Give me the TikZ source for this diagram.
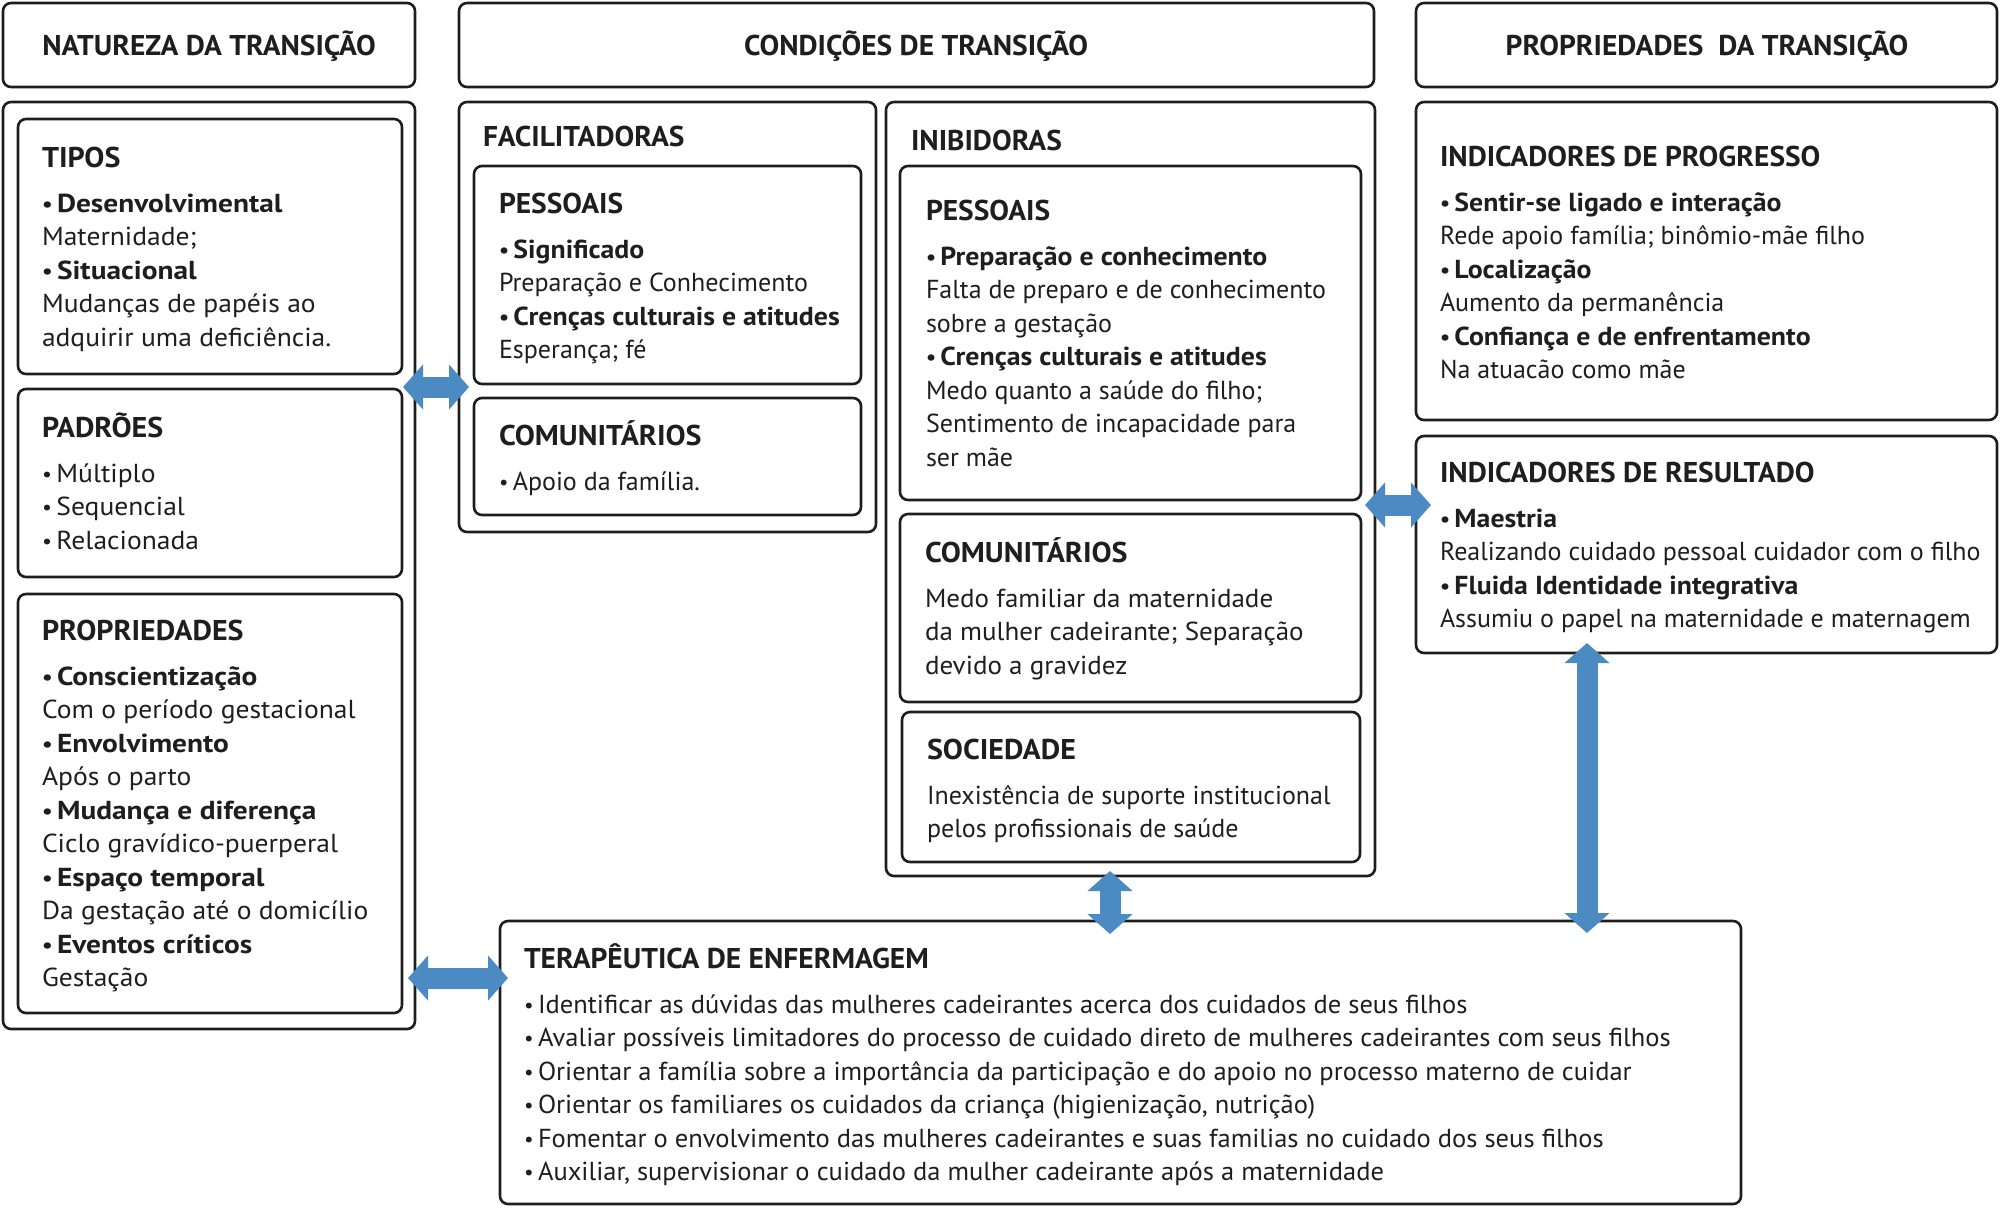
\documentclass[tikz,border=0pt]{standalone}
\usepackage{fontspec}
\setmainfont{PT Sans}[BoldFeatures={FakeStretch=1.07}]
\newfontfamily\wfam{PT Sans}[UprightFeatures={FakeStretch=1.06},BoldFeatures={FakeStretch=1.13}]
\newfontfamily\mfam{PT Sans}[UprightFeatures={FakeStretch=1.04},BoldFeatures={FakeStretch=1.07}]
\newfontfamily\tfam{PT Sans}[UprightFeatures={FakeStretch=1.02},BoldFeatures={FakeStretch=1.07}]
\newfontfamily\hfam{PT Sans}[BoldFeatures={FakeStretch=1.03}]
\newfontfamily\whfam{PT Sans}[BoldFeatures={FakeStretch=1.05}]
\usetikzlibrary{arrows.meta,fit}
\definecolor{bx}{HTML}{1E1E1E}
\definecolor{arr}{RGB}{75,138,194}
\newcommand\bodyf{\fontsize{13}{16.75}\selectfont}
\newcommand\hdf{\fontsize{14.3}{16.75}\selectfont\bfseries}
\newcommand\hdl[1]{{\hfam\hdf #1}\\[5.75pt]}
\newcommand\hdlw[1]{{\whfam\hdf #1}\\[5.75pt]}
\newcommand\bu{\raisebox{.4pt}{\scalebox{.8}{•}}\hspace{2.2pt}}
\newcommand\bl[1]{{\bfseries\bu #1}}
\newcommand\tb[3]{\parbox[t]{#1}{#2\bodyf\raggedright #3}}
\begin{document}
\begin{tikzpicture}[x=0.5pt,y=-0.5pt,
  frame/.style={draw=bx, line width=1.3pt, rounded corners=4pt, inner sep=0pt},
  txt/.style={anchor=base west, inner sep=0pt, outer sep=0pt, text=bx},
  htxt/.style={anchor=base, inner sep=0pt, text=bx, font=\hfam\hdf},
  dbl/.style={line width=10.5pt, draw=arr, {Triangle[length=10pt,width=22pt]}-{Triangle[length=10pt,width=22pt]}}]
\useasboundingbox (0,0) rectangle (2000,1207);
% header boxes
\node[frame, fit={(3,3)(415,87)}] (hN) {};
\node[frame, fit={(459,3)(1374,87)}] (hC) {};
\node[frame, fit={(1416,3)(1997,87)}] (hP) {};
\node[htxt] (hNt) at (209,55) {NATUREZA DA TRANSIÇÃO};
\node[htxt] (hCt) at (916,55) {CONDIÇÕES DE TRANSIÇÃO};
\node[htxt] (hPt) at (1707,55) {PROPRIEDADES\ \ DA TRANSIÇÃO};
% left column
\node[frame, fit={(3,102)(415,1029)}] (outL) {};
\node[frame, fit={(18,119)(402,374)}] (tipos) {};
\node[frame, fit={(18,389)(402,577)}] (padr) {};
\node[frame, fit={(18,594)(402,1013)}] (props) {};
\node[txt] (tiposT) at (42,167) {\tb{180pt}{\wfam}{\hdlw{TIPOS}\bl{Desenvolvimental}\\Maternidade;\\\bl{Situacional}\\Mudanças de papéis ao\\adquirir uma deficiência.}};
\node[txt] (padrT) at (42,437) {\tb{180pt}{\wfam}{\hdlw{PADRÕES}\bu Múltiplo\\\bu Sequencial\\\bu Relacionada}};
\node[txt] (propsT) at (42,640) {\tb{180pt}{\wfam}{\hdlw{PROPRIEDADES}\bl{Conscientização}\\Com o período gestacional\\\bl{Envolvimento}\\Após o parto\\\bl{Mudança e diferença}\\Ciclo gravídico-puerperal\\\bl{Espaço temporal}\\Da gestação até o domicílio\\\bl{Eventos críticos}\\Gestação}};
% facilitadoras
\node[frame, fit={(459,102)(876,532)}] (facil) {};
\node[frame, fit={(474,166)(861,384)}] (fpess) {};
\node[frame, fit={(474,398)(861,515)}] (fcom) {};
\node[txt, font=\hfam\hdf] (facilT) at (483,146) {FACILITADORAS};
\node[txt] (fpessT) at (499,213) {\tb{185pt}{}{\hdl{PESSOAIS}\bl{Significado}\\Preparação e Conhecimento\\\bl{Crenças culturais e atitudes}\\Esperança; fé}};
\node[txt] (fcomT) at (499,445) {\tb{185pt}{}{\hdlw{COMUNITÁRIOS}\bu Apoio da família.}};
% inibidoras
\node[frame, fit={(886,102)(1375,876)}] (inib) {};
\node[frame, fit={(900,166)(1361,500)}] (ipess) {};
\node[frame, fit={(900,514)(1361,702)}] (icom) {};
\node[frame, fit={(902,712)(1360,862)}] (isoc) {};
\node[txt, font=\hfam\hdf] (inibT) at (911,150) {INIBIDORAS};
\node[txt] (ipessT) at (926,220) {\tb{215pt}{}{\hdl{PESSOAIS}\bl{Preparação e conhecimento}\\Falta de preparo e de conhecimento\\sobre a gestação\\\bl{Crenças culturais e atitudes}\\Medo quanto a saúde do filho;\\Sentimento de incapacidade para\\ser mãe}};
\node[txt] (icomT) at (925,562) {\tb{215pt}{\mfam}{\hdlw{COMUNITÁRIOS}Medo familiar da maternidade\\da mulher cadeirante; Separação\\devido a gravidez}};
\node[txt] (isocT) at (927,759) {\tb{215pt}{}{\hdlw{SOCIEDADE}Inexistência de suporte institucional\\pelos profissionais de saúde}};
% propriedades
\node[frame, fit={(1416,102)(1997,420)}] (prog) {};
\node[frame, fit={(1416,436)(1997,653)}] (res) {};
\node[txt] (progT) at (1440,166) {\tb{275pt}{}{\hdl{INDICADORES DE PROGRESSO}\bl{Sentir-se ligado e interação}\\Rede apoio família; binômio-mãe filho\\\bl{Localização}\\Aumento da permanência\\\bl{Confiança e de enfrentamento}\\Na atuacão como mãe}};
\node[txt] (resT) at (1440,482) {\tb{275pt}{}{\hdl{INDICADORES DE RESULTADO}\bl{Maestria}\\Realizando cuidado pessoal cuidador com o filho\\\bl{Fluida Identidade integrativa}\\Assumiu o papel na maternidade e maternagem}};
% terapeutica
\node[frame, fit={(500,921)(1741,1204)}] (ter) {};
\node[txt] (terT) at (524,968) {\tb{600pt}{\tfam}{\hdl{TERAPÊUTICA DE ENFERMAGEM}\bu Identificar as dúvidas das mulheres cadeirantes acerca dos cuidados de seus filhos\\\bu Avaliar possíveis limitadores do processo de cuidado direto de mulheres cadeirantes com seus filhos\\\bu Orientar a família sobre a importância da participação e do apoio no processo materno de cuidar\\\bu Orientar os familiares os cuidados da criança (higienização, nutrição)\\\bu Fomentar o envolvimento das mulheres cadeirantes e suas familias no cuidado dos seus filhos\\\bu Auxiliar, supervisionar o cuidado da mulher cadeirante após a maternidade}};
% arrows
\coordinate (a1l) at (403,387); \coordinate (a1r) at (469,387);
\coordinate (a2l) at (1365,505); \coordinate (a2r) at (1431,505);
\coordinate (a3l) at (408,978); \coordinate (a3r) at (508,978);
\coordinate (a4t) at (1110,871); \coordinate (a4b) at (1110,934);
\coordinate (a5t) at (1587,643); \coordinate (a5b) at (1587,933);
\draw[dbl] (a1l) -- (a1r);
\draw[dbl] (a2l) -- (a2r);
\draw[dbl] (a3l) -- (a3r);
\draw[dbl] (a4t) -- (a4b);
\draw[dbl] (a5t) -- (a5b);
\end{tikzpicture}
\end{document}
